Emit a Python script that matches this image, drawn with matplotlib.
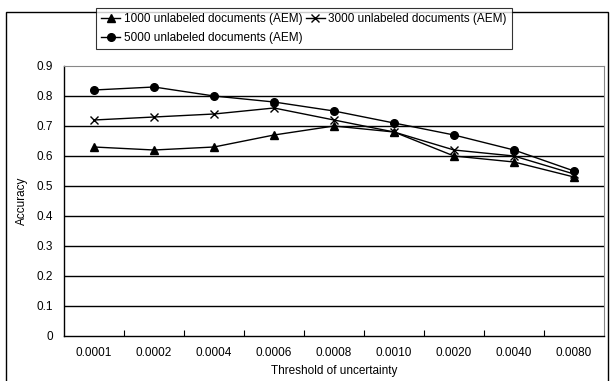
import matplotlib.pyplot as plt
from matplotlib.patches import Rectangle

thresholds = ['0.0001', '0.0002', '0.0004', '0.0006', '0.0008', '0.0010', '0.0020', '0.0040', '0.0080']
acc_1000 = [0.63, 0.62, 0.63, 0.67, 0.70, 0.68, 0.60, 0.58, 0.53]
acc_3000 = [0.72, 0.73, 0.74, 0.76, 0.72, 0.68, 0.62, 0.60, 0.54]
acc_5000 = [0.82, 0.83, 0.80, 0.78, 0.75, 0.71, 0.67, 0.62, 0.55]
y_ticks = [0, 0.1, 0.2, 0.3, 0.4, 0.5, 0.6, 0.7, 0.8, 0.9]

plt.rcParams['font.family'] = ['Liberation Sans', 'DejaVu Sans']

fig = plt.figure(figsize=(6.11, 3.81), dpi=100)
ax = fig.add_axes([64/611, 45/381, 540/611, 270/381])

# outer chart frame
fig.patches.append(Rectangle((6/611, -0.01), 602/611, 369/381 + 0.01,
                             transform=fig.transFigure, fill=False,
                             edgecolor='black', linewidth=1.0))

x = list(range(len(thresholds)))
l1, = ax.plot(x, acc_1000, color='black', marker='^', markersize=5.5, linewidth=1.0,
              label='1000 unlabeled documents (AEM)')
l3, = ax.plot(x, acc_3000, color='black', marker='x', markersize=5.5, linewidth=1.0,
              label='3000 unlabeled documents (AEM)')
l5, = ax.plot(x, acc_5000, color='black', marker='o', markersize=5.5, linewidth=1.0,
              label='5000 unlabeled documents (AEM)')

ax.set_xlim(-0.5, len(thresholds) - 0.5)
ax.set_ylim(0, 0.9)
ax.set_yticks(y_ticks)
ax.set_yticklabels(['0' if v == 0 else f'{v:.1f}' for v in y_ticks])
ax.set_xticks(x)
ax.set_xticklabels(thresholds)
ax.tick_params(axis='x', length=0, labelsize=8.5, pad=8)
ax.tick_params(axis='y', length=0, labelsize=8.5, pad=8)
ax.set_xticks([i + 0.5 for i in x[:-1]], minor=True)
ax.tick_params(axis='x', which='minor', direction='in', length=4, width=0.8)

for v in y_ticks[1:-1]:
    ax.axhline(v, color='black', linewidth=1.0, zorder=0)

ax.spines['left'].set_linewidth(1.0)
ax.spines['bottom'].set_linewidth(1.0)
ax.spines['top'].set_color('#888888')
ax.spines['top'].set_linewidth(0.8)
ax.spines['right'].set_color('#888888')
ax.spines['right'].set_linewidth(0.8)

ax.set_xlabel('Threshold of uncertainty', fontsize=8.5, labelpad=4)
ax.set_ylabel('Accuracy', fontsize=8.5, labelpad=6)

leg = fig.legend(handles=[l1, l5, l3], loc='upper left',
                 bbox_to_anchor=(96/611, 1 - 8/381), ncol=2, fontsize=8.5,
                 frameon=True, fancybox=False, edgecolor='black',
                 handlelength=1.6, handletextpad=0.3, columnspacing=0.3,
                 borderpad=0.45, labelspacing=0.55, borderaxespad=0)
leg.get_frame().set_linewidth(0.8)

fig.savefig('out.png', dpi=100)
